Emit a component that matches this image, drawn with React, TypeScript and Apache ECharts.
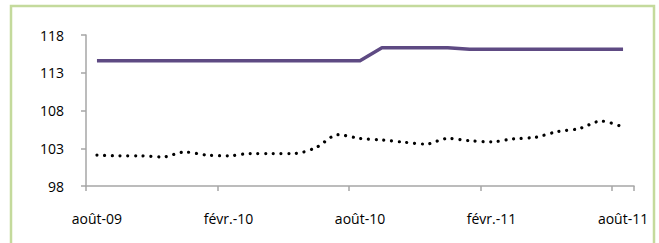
import React, { useEffect, useRef } from "react";
import * as echarts from "echarts";

const months: string[] = [
  "août-09", "sept.-09", "oct.-09", "nov.-09", "déc.-09", "janv.-10", "févr.-10",
  "mars-10", "avr.-10", "mai-10", "juin-10", "juil.-10", "août-10", "sept.-10",
  "oct.-10", "nov.-10", "déc.-10", "janv.-11", "févr.-11", "mars-11", "avr.-11",
  "mai-11", "juin-11", "juil.-11", "août-11",
];

const purpleSeries: number[] = [
  114.6, 114.6, 114.6, 114.6, 114.6, 114.6, 114.6, 114.6, 114.6, 114.6, 114.6, 114.6, 114.6,
  116.3, 116.3, 116.3, 116.3, 116.1, 116.1, 116.1, 116.1, 116.1, 116.1, 116.1, 116.1,
];

const dottedSeries: number[] = [
  102.1, 102.0, 102.0, 101.85, 102.5, 102.1, 102.0, 102.3, 102.3, 102.3, 103.1, 104.8, 104.3,
  104.1, 103.8, 103.55, 104.3, 104.0, 103.85, 104.25, 104.45, 105.2, 105.6, 106.6, 105.8,
];

const yMin = 98;
const yMax = 118;
const yStep = 5;

export default function App() {
  const ref = useRef<HTMLDivElement>(null);
  useEffect(() => {
    if (!ref.current) return;
    const chart = echarts.init(ref.current, null, { renderer: "svg" });
    const font = "Open Sans";
    chart.setOption({
      animation: false,
      backgroundColor: "#ffffff",
      grid: { left: 86, right: 25, top: 35, bottom: 57 },
      graphic: [
        {
          type: "rect",
          shape: { x: 11, y: 6, width: 643, height: 260 },
          style: { fill: "none", stroke: "#c4da9c", lineWidth: 2.5 },
          silent: true,
        },
      ],
      xAxis: {
        type: "category",
        data: months,
        boundaryGap: true,
        axisLine: { lineStyle: { color: "#a6a6a6", width: 1.5 } },
        axisTick: { show: true, interval: 5, length: 5, lineStyle: { color: "#a6a6a6", width: 1.5 } },
        axisLabel: {
          interval: 5,
          margin: 25,
          color: "#000000",
          fontSize: 14,
          fontFamily: font,
        },
        splitLine: { show: false },
      },
      yAxis: {
        type: "value",
        min: yMin,
        max: yMax,
        interval: yStep,
        axisLine: { show: true, lineStyle: { color: "#a6a6a6", width: 1.5 } },
        axisTick: { show: true, length: 5, lineStyle: { color: "#a6a6a6", width: 1.5 } },
        axisLabel: { margin: 22, color: "#000000", fontSize: 14, fontFamily: font },
        splitLine: { show: false },
      },
      series: [
        {
          type: "line",
          data: purpleSeries,
          showSymbol: false,
          lineStyle: { color: "#5e4a83", width: 3.5, join: "round" },
        },
        {
          type: "line",
          data: dottedSeries,
          showSymbol: false,
          smooth: 0.3,
          lineStyle: { color: "#000000", width: 3.2, type: [0.01, 7.7], cap: "round" },
        },
      ],
    });
    return () => chart.dispose();
  }, []);
  return (
    <div
      ref={ref}
      style={{ position: "fixed", left: 0, top: 0, width: 659, height: 243 }}
    />
  );
}
